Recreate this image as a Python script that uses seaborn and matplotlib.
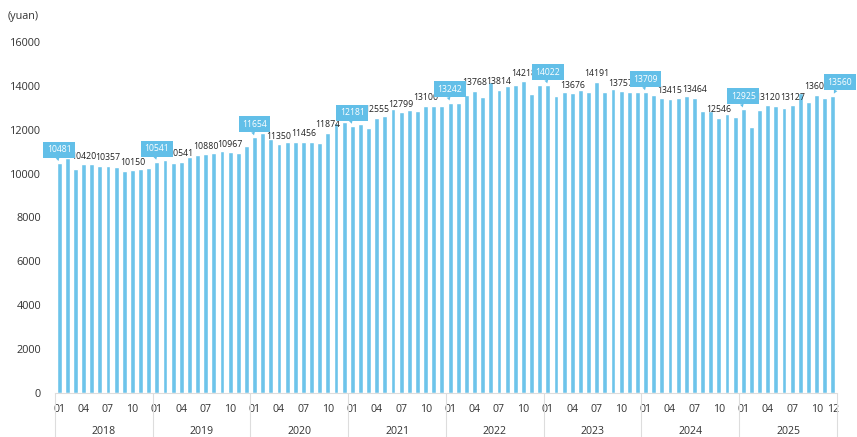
import numpy as np
import pandas as pd
import matplotlib
matplotlib.use("Agg")
import matplotlib.pyplot as plt
import seaborn as sns

# ---- data ----
years = ["2018", "2019", "2020", "2021", "2022", "2023", "2024", "2025"]
months = ["01", "02", "03", "04", "05", "06", "07", "08", "09", "10", "11", "12"]
v2018 = [10481, 10720, 10230, 10420, 10430, 10350, 10357, 10300, 10140, 10150, 10200, 10255]
v2019 = [10541, 10600, 10500, 10541, 10742, 10840, 10880, 10925, 11020, 10967, 10955, 11265]
v2020 = [11654, 11835, 11560, 11350, 11420, 11420, 11456, 11455, 11380, 11874, 12320, 12367]
v2021 = [12181, 12250, 12100, 12555, 12625, 12930, 12799, 12900, 12868, 13100, 13082, 13082]
v2022 = [13242, 13234, 13600, 13768, 13507, 14190, 13814, 13993, 14040, 14218, 13630, 14040]
v2023 = [14022, 13553, 13705, 13676, 13810, 13705, 14191, 13705, 13857, 13757, 13720, 13720]
v2024 = [13709, 13584, 13462, 13415, 13462, 13537, 13464, 12868, 12868, 12546, 12717, 12565]
v2025 = [12925, 12110, 12900, 13120, 13100, 12975, 13127, 13660, 13280, 13606, 13431, 13560]
yearly = [v2018, v2019, v2020, v2021, v2022, v2023, v2024, v2025]
y_ticks = [0, 2000, 4000, 6000, 8000, 10000, 12000, 14000, 16000]
unit_label = "(yuan)"

periods = [f"{y}-{m}" for y in years for m in months]
values = [v for yr in yearly for v in yr]
df = pd.DataFrame({"period": periods, "value": values})

BAR = "#6dc4ea"
BOX = "#62bfe8"
TXT = "#333333"

sns.set_theme(style="white")
plt.rcParams["font.family"] = ["Open Sans", "DejaVu Sans"]

fig = plt.figure(figsize=(8.57, 4.37), dpi=100)
ax = fig.add_axes([55 / 857, 1 - 393 / 437, (837 - 55) / 857, (393 - 42) / 437])

sns.barplot(data=df, x="period", y="value", color=BAR, saturation=1,
            width=0.6, ax=ax, order=periods)

ax.set_xlim(-0.5, len(periods) - 0.5)
ax.set_ylim(0, 16000)
ax.set_yticks(y_ticks)
ax.set_yticklabels([str(t) for t in y_ticks], fontsize=7.8, color=TXT)
ax.set_xlabel("")
ax.set_ylabel("")

# month tick labels
tick_pos, tick_lab = [], []
for i, p in enumerate(periods):
    m = p.split("-")[1]
    if m in ("01", "04", "07", "10") or i == len(periods) - 1:
        tick_pos.append(i)
        tick_lab.append(m)
ax.set_xticks(tick_pos)
ax.set_xticklabels(tick_lab, fontsize=7.6, color=TXT)
ax.tick_params(axis="both", length=0)
ax.tick_params(axis="x", pad=8)
ax.tick_params(axis="y", pad=10)

for s in ("top", "right", "left"):
    ax.spines[s].set_visible(False)
ax.spines["bottom"].set_color("#dddddd")
ax.spines["bottom"].set_linewidth(0.8)

# year separators and labels
trans = matplotlib.transforms.blended_transform_factory(ax.transData, ax.transAxes)
for k, y in enumerate(years):
    x0 = k * 12 - 0.5
    ax.plot([x0, x0], [0, -0.128], transform=trans, color="#dddddd", lw=0.8, clip_on=False)
    ax.text(k * 12 + 5.5, -0.11, y, transform=trans, ha="center", va="center",
            fontsize=7.6, color=TXT)
xe = len(periods) - 0.5
ax.plot([xe, xe], [0, -0.128], transform=trans, color="#dddddd", lw=0.8, clip_on=False)

# value labels
for i, (p, v) in enumerate(zip(periods, values)):
    m = p.split("-")[1]
    last = i == len(periods) - 1
    if m == "01" or last:
        dx = 5 if last else 0
        ax.annotate(str(v), xy=(i, v), xytext=(dx, 9.5), textcoords="offset points",
                    ha="center", va="center", fontsize=6.2, color="white",
                    bbox=dict(boxstyle="square,pad=0.4", fc=BOX, ec="none"),
                    arrowprops=dict(arrowstyle="wedge,tail_width=0.45", fc=BOX, ec="none",
                                    shrinkA=0, shrinkB=1.5, relpos=(0.4, 0.0)),
                    annotation_clip=False, zorder=5)
    elif m in ("04", "07", "10"):
        ax.annotate(str(v), xy=(i, v), xytext=(0, 2.5), textcoords="offset points",
                    ha="center", va="bottom", fontsize=6.3, color="#222222", zorder=4)

fig.text(8 / 857, 1 - 17 / 437, unit_label, fontsize=7.8, color=TXT, ha="left", va="center")

fig.savefig("out.png", dpi=100)
